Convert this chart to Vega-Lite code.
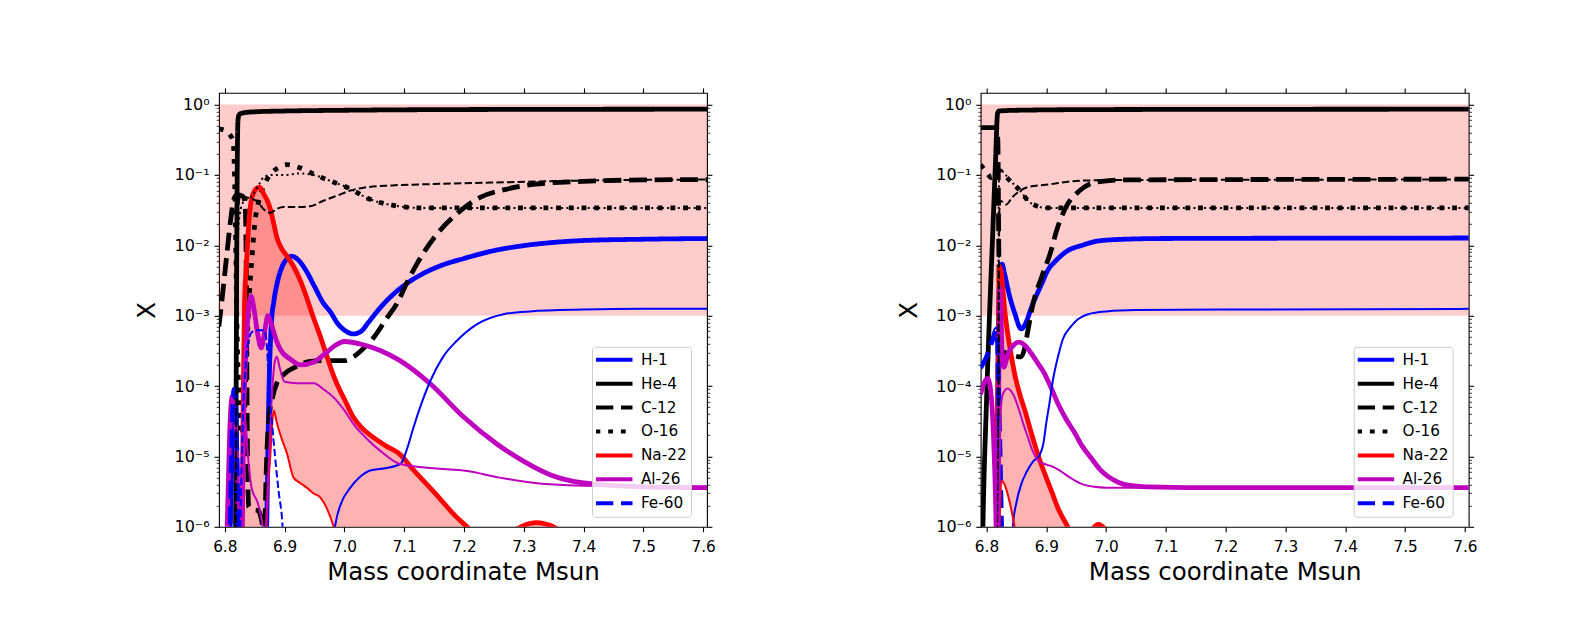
{
  "$schema": "https://vega.github.io/schema/vega-lite/v6.json",
  "background": "white",
  "padding": {"left": 133, "top": 86.8, "right": 10, "bottom": 10},
  "spacing": 178.7,
  "config": {
    "font": "DejaVu Sans",
    "view": {"stroke": "black", "strokeWidth": 1.1},
    "axis": {"domain": false, "grid": false, "tickColor": "black", "labelColor": "black", "titleColor": "black", "labelFont": "DejaVu Sans", "titleFont": "DejaVu Sans", "titleFontWeight": "normal", "labelFontSize": 15.3, "titleFontSize": 24.5, "labelOverlap": false, "labelFlush": false, "labelBound": false}
  },
  "resolve": {"scale": {"color": "independent", "strokeDash": "independent"}},
  "datasets": {
    "curvesLeft": [
      {"species":"H-1","run":"1","mass":6.79,"X":1e-8},{"species":"H-1","run":"1","mass":6.805,"X":1e-8},{"species":"H-1","run":"1","mass":6.809,"X":1e-6},{"species":"H-1","run":"1","mass":6.813,"X":3e-5},{"species":"H-1","run":"1","mass":6.816,"X":9e-5},{"species":"H-1","run":"1","mass":6.819,"X":3e-5},{"species":"H-1","run":"1","mass":6.822,"X":1e-6},{"species":"H-1","run":"1","mass":6.826,"X":1e-8},{"species":"H-1","run":"1","mass":6.862,"X":1e-8},{"species":"H-1","run":"1","mass":6.87,"X":1e-6},{"species":"H-1","run":"1","mass":6.874,"X":1e-4},{"species":"H-1","run":"1","mass":6.878,"X":8e-4},{"species":"H-1","run":"1","mass":6.882,"X":1.6e-3},{"species":"H-1","run":"1","mass":6.888,"X":3e-3},{"species":"H-1","run":"1","mass":6.896,"X":5e-3},{"species":"H-1","run":"1","mass":6.905,"X":6.5e-3},{"species":"H-1","run":"1","mass":6.912,"X":7e-3},{"species":"H-1","run":"1","mass":6.922,"X":6.3e-3},{"species":"H-1","run":"1","mass":6.935,"X":4.5e-3},{"species":"H-1","run":"1","mass":6.95,"X":2.6e-3},{"species":"H-1","run":"1","mass":6.965,"X":1.5e-3},{"species":"H-1","run":"1","mass":6.976,"X":1.15e-3},{"species":"H-1","run":"1","mass":6.99,"X":7.5e-4},{"species":"H-1","run":"1","mass":7.003,"X":6e-4},{"species":"H-1","run":"1","mass":7.015,"X":5.5e-4},{"species":"H-1","run":"1","mass":7.028,"X":6e-4},{"species":"H-1","run":"1","mass":7.04,"X":8e-4},{"species":"H-1","run":"1","mass":7.06,"X":1.3e-3},{"species":"H-1","run":"1","mass":7.08,"X":1.95e-3},{"species":"H-1","run":"1","mass":7.1,"X":2.7e-3},{"species":"H-1","run":"1","mass":7.13,"X":3.9e-3},{"species":"H-1","run":"1","mass":7.16,"X":5.1e-3},{"species":"H-1","run":"1","mass":7.2,"X":6.5e-3},{"species":"H-1","run":"1","mass":7.25,"X":8.4e-3},{"species":"H-1","run":"1","mass":7.3,"X":9.9e-3},{"species":"H-1","run":"1","mass":7.35,"X":1.1e-2},{"species":"H-1","run":"1","mass":7.4,"X":1.17e-2},{"species":"H-1","run":"1","mass":7.5,"X":1.22e-2},{"species":"H-1","run":"1","mass":7.61,"X":1.25e-2},
      {"species":"He-4","run":"1","mass":6.79,"X":1e-8},{"species":"He-4","run":"1","mass":6.815,"X":1e-8},{"species":"He-4","run":"1","mass":6.818,"X":1e-6},{"species":"He-4","run":"1","mass":6.8195,"X":1e-3},{"species":"He-4","run":"1","mass":6.821,"X":0.2},{"species":"He-4","run":"1","mass":6.822,"X":0.6},{"species":"He-4","run":"1","mass":6.824,"X":0.72},{"species":"He-4","run":"1","mass":6.83,"X":0.76},{"species":"He-4","run":"1","mass":6.85,"X":0.79},{"species":"He-4","run":"1","mass":6.9,"X":0.81},{"species":"He-4","run":"1","mass":7.0,"X":0.83},{"species":"He-4","run":"1","mass":7.2,"X":0.85},{"species":"He-4","run":"1","mass":7.61,"X":0.86},
      {"species":"C-12","run":"1","mass":6.79,"X":7e-4},{"species":"C-12","run":"1","mass":6.795,"X":1.6e-3},{"species":"C-12","run":"1","mass":6.8,"X":4e-3},{"species":"C-12","run":"1","mass":6.805,"X":0.01},{"species":"C-12","run":"1","mass":6.81,"X":0.024},{"species":"C-12","run":"1","mass":6.815,"X":0.045},{"species":"C-12","run":"1","mass":6.82,"X":0.052},{"species":"C-12","run":"1","mass":6.83,"X":0.05},{"species":"C-12","run":"1","mass":6.834,"X":0.04},{"species":"C-12","run":"1","mass":6.836,"X":3e-3},{"species":"C-12","run":"1","mass":6.837,"X":1e-4},{"species":"C-12","run":"1","mass":6.838,"X":1e-5},{"species":"C-12","run":"1","mass":6.84,"X":1.9e-6},{"species":"C-12","run":"1","mass":6.848,"X":1.75e-6},{"species":"C-12","run":"1","mass":6.856,"X":1.7e-6},{"species":"C-12","run":"1","mass":6.86,"X":1.4e-6},{"species":"C-12","run":"1","mass":6.863,"X":1e-6},{"species":"C-12","run":"1","mass":6.865,"X":4e-7},{"species":"C-12","run":"1","mass":6.867,"X":1e-6},{"species":"C-12","run":"1","mass":6.869,"X":5e-6},{"species":"C-12","run":"1","mass":6.873,"X":2.9e-5},{"species":"C-12","run":"1","mass":6.88,"X":7e-5},{"species":"C-12","run":"1","mass":6.887,"X":1.1e-4},{"species":"C-12","run":"1","mass":6.9,"X":1.5e-4},{"species":"C-12","run":"1","mass":6.92,"X":1.9e-4},{"species":"C-12","run":"1","mass":6.943,"X":2.25e-4},{"species":"C-12","run":"1","mass":6.97,"X":2.3e-4},{"species":"C-12","run":"1","mass":7.0,"X":2.3e-4},{"species":"C-12","run":"1","mass":7.015,"X":2.6e-4},{"species":"C-12","run":"1","mass":7.03,"X":3.3e-4},{"species":"C-12","run":"1","mass":7.049,"X":4.9e-4},{"species":"C-12","run":"1","mass":7.07,"X":9e-4},{"species":"C-12","run":"1","mass":7.088,"X":1.5e-3},{"species":"C-12","run":"1","mass":7.105,"X":3e-3},{"species":"C-12","run":"1","mass":7.121,"X":5.4e-3},{"species":"C-12","run":"1","mass":7.155,"X":0.0145},{"species":"C-12","run":"1","mass":7.188,"X":0.028},{"species":"C-12","run":"1","mass":7.227,"X":0.048},{"species":"C-12","run":"1","mass":7.272,"X":0.063},{"species":"C-12","run":"1","mass":7.32,"X":0.074},{"species":"C-12","run":"1","mass":7.4,"X":0.081},{"species":"C-12","run":"1","mass":7.5,"X":0.085},{"species":"C-12","run":"1","mass":7.61,"X":0.086},
      {"species":"O-16","run":"1","mass":6.79,"X":0.45},{"species":"O-16","run":"1","mass":6.8,"X":0.43},{"species":"O-16","run":"1","mass":6.809,"X":0.37},{"species":"O-16","run":"1","mass":6.814,"X":0.3},{"species":"O-16","run":"1","mass":6.817,"X":0.05},{"species":"O-16","run":"1","mass":6.82,"X":1e-3},{"species":"O-16","run":"1","mass":6.823,"X":1e-4},{"species":"O-16","run":"1","mass":6.827,"X":2e-5},{"species":"O-16","run":"1","mass":6.832,"X":3e-5},{"species":"O-16","run":"1","mass":6.836,"X":2e-4},{"species":"O-16","run":"1","mass":6.84,"X":1.4e-3},{"species":"O-16","run":"1","mass":6.845,"X":6e-3},{"species":"O-16","run":"1","mass":6.85,"X":0.02},{"species":"O-16","run":"1","mass":6.856,"X":0.04},{"species":"O-16","run":"1","mass":6.862,"X":0.06},{"species":"O-16","run":"1","mass":6.87,"X":0.085},{"species":"O-16","run":"1","mass":6.88,"X":0.11},{"species":"O-16","run":"1","mass":6.892,"X":0.13},{"species":"O-16","run":"1","mass":6.905,"X":0.14},{"species":"O-16","run":"1","mass":6.926,"X":0.126},{"species":"O-16","run":"1","mass":6.954,"X":0.098},{"species":"O-16","run":"1","mass":6.98,"X":0.08},{"species":"O-16","run":"1","mass":7.004,"X":0.067},{"species":"O-16","run":"1","mass":7.043,"X":0.045},{"species":"O-16","run":"1","mass":7.082,"X":0.037},{"species":"O-16","run":"1","mass":7.127,"X":0.034},{"species":"O-16","run":"1","mass":7.2,"X":0.034},{"species":"O-16","run":"1","mass":7.61,"X":0.034},
      {"species":"Al-26","run":"1","mass":6.79,"X":1e-8},{"species":"Al-26","run":"1","mass":6.8,"X":1e-8},{"species":"Al-26","run":"1","mass":6.804,"X":1e-6},{"species":"Al-26","run":"1","mass":6.808,"X":2e-5},{"species":"Al-26","run":"1","mass":6.812,"X":7e-5},{"species":"Al-26","run":"1","mass":6.815,"X":7.5e-5},{"species":"Al-26","run":"1","mass":6.818,"X":3e-5},{"species":"Al-26","run":"1","mass":6.821,"X":3e-6},{"species":"Al-26","run":"1","mass":6.823,"X":1e-7},{"species":"Al-26","run":"1","mass":6.826,"X":1e-8},{"species":"Al-26","run":"1","mass":6.829,"X":1e-6},{"species":"Al-26","run":"1","mass":6.832,"X":5e-5},{"species":"Al-26","run":"1","mass":6.836,"X":4e-4},{"species":"Al-26","run":"1","mass":6.84,"X":1.3e-3},{"species":"Al-26","run":"1","mass":6.844,"X":1.9e-3},{"species":"Al-26","run":"1","mass":6.849,"X":1.2e-3},{"species":"Al-26","run":"1","mass":6.855,"X":5.5e-4},{"species":"Al-26","run":"1","mass":6.861,"X":3.5e-4},{"species":"Al-26","run":"1","mass":6.866,"X":5.5e-4},{"species":"Al-26","run":"1","mass":6.872,"X":1e-3},{"species":"Al-26","run":"1","mass":6.878,"X":7.5e-4},{"species":"Al-26","run":"1","mass":6.886,"X":4.5e-4},{"species":"Al-26","run":"1","mass":6.893,"X":3.3e-4},{"species":"Al-26","run":"1","mass":6.91,"X":2.4e-4},{"species":"Al-26","run":"1","mass":6.926,"X":2e-4},{"species":"Al-26","run":"1","mass":6.949,"X":2.2e-4},{"species":"Al-26","run":"1","mass":6.97,"X":3e-4},{"species":"Al-26","run":"1","mass":6.985,"X":3.8e-4},{"species":"Al-26","run":"1","mass":7.0,"X":4.3e-4},{"species":"Al-26","run":"1","mass":7.03,"X":3.9e-4},{"species":"Al-26","run":"1","mass":7.06,"X":3.2e-4},{"species":"Al-26","run":"1","mass":7.093,"X":2.3e-4},{"species":"Al-26","run":"1","mass":7.144,"X":1.07e-4},{"species":"Al-26","run":"1","mass":7.2,"X":3.6e-5},{"species":"Al-26","run":"1","mass":7.255,"X":1.5e-5},{"species":"Al-26","run":"1","mass":7.3,"X":8.5e-6},{"species":"Al-26","run":"1","mass":7.344,"X":5.5e-6},{"species":"Al-26","run":"1","mass":7.4,"X":4.2e-6},{"species":"Al-26","run":"1","mass":7.5,"X":3.7e-6},{"species":"Al-26","run":"1","mass":7.61,"X":3.6e-6},
      {"species":"Fe-60","run":"1","mass":6.79,"X":1e-8},{"species":"Fe-60","run":"1","mass":6.806,"X":1e-8},{"species":"Fe-60","run":"1","mass":6.809,"X":1e-6},{"species":"Fe-60","run":"1","mass":6.813,"X":4e-5},{"species":"Fe-60","run":"1","mass":6.816,"X":9e-5},{"species":"Fe-60","run":"1","mass":6.819,"X":3e-5},{"species":"Fe-60","run":"1","mass":6.822,"X":1e-6},{"species":"Fe-60","run":"1","mass":6.825,"X":1e-8},{"species":"Fe-60","run":"1","mass":6.9,"X":1e-8},
      {"species":"H-1","run":"2","mass":6.79,"X":1e-8},{"species":"H-1","run":"2","mass":6.975,"X":1e-8},{"species":"H-1","run":"2","mass":6.982,"X":7e-7},{"species":"H-1","run":"2","mass":6.986,"X":1.2e-6},{"species":"H-1","run":"2","mass":6.995,"X":2.2e-6},{"species":"H-1","run":"2","mass":7.01,"X":3.6e-6},{"species":"H-1","run":"2","mass":7.025,"X":5e-6},{"species":"H-1","run":"2","mass":7.043,"X":6.3e-6},{"species":"H-1","run":"2","mass":7.068,"X":6.8e-6},{"species":"H-1","run":"2","mass":7.085,"X":7.3e-6},{"species":"H-1","run":"2","mass":7.095,"X":8e-6},{"species":"H-1","run":"2","mass":7.105,"X":1.3e-5},{"species":"H-1","run":"2","mass":7.115,"X":2.5e-5},{"species":"H-1","run":"2","mass":7.13,"X":6e-5},{"species":"H-1","run":"2","mass":7.144,"X":1.2e-4},{"species":"H-1","run":"2","mass":7.165,"X":2.6e-4},{"species":"H-1","run":"2","mass":7.188,"X":4.4e-4},{"species":"H-1","run":"2","mass":7.222,"X":7.6e-4},{"species":"H-1","run":"2","mass":7.266,"X":1.05e-3},{"species":"H-1","run":"2","mass":7.31,"X":1.15e-3},{"species":"H-1","run":"2","mass":7.4,"X":1.22e-3},{"species":"H-1","run":"2","mass":7.5,"X":1.25e-3},{"species":"H-1","run":"2","mass":7.61,"X":1.25e-3},
      {"species":"C-12","run":"2","mass":6.818,"X":1e-7},{"species":"C-12","run":"2","mass":6.82,"X":1e-3},{"species":"C-12","run":"2","mass":6.822,"X":0.03},{"species":"C-12","run":"2","mass":6.826,"X":0.05},{"species":"C-12","run":"2","mass":6.84,"X":0.047},{"species":"C-12","run":"2","mass":6.854,"X":0.042},{"species":"C-12","run":"2","mass":6.866,"X":0.032},{"species":"C-12","run":"2","mass":6.876,"X":0.029},{"species":"C-12","run":"2","mass":6.887,"X":0.033},{"species":"C-12","run":"2","mass":6.898,"X":0.035},{"species":"C-12","run":"2","mass":6.92,"X":0.035},{"species":"C-12","run":"2","mass":6.943,"X":0.036},{"species":"C-12","run":"2","mass":6.965,"X":0.043},{"species":"C-12","run":"2","mass":6.988,"X":0.051},{"species":"C-12","run":"2","mass":7.01,"X":0.06},{"species":"C-12","run":"2","mass":7.032,"X":0.066},{"species":"C-12","run":"2","mass":7.08,"X":0.071},{"species":"C-12","run":"2","mass":7.144,"X":0.074},{"species":"C-12","run":"2","mass":7.25,"X":0.078},{"species":"C-12","run":"2","mass":7.43,"X":0.084},{"species":"C-12","run":"2","mass":7.61,"X":0.086},
      {"species":"O-16","run":"2","mass":6.818,"X":1e-6},{"species":"O-16","run":"2","mass":6.82,"X":1e-3},{"species":"O-16","run":"2","mass":6.823,"X":0.02},{"species":"O-16","run":"2","mass":6.83,"X":0.04},{"species":"O-16","run":"2","mass":6.845,"X":0.05},{"species":"O-16","run":"2","mass":6.858,"X":0.075},{"species":"O-16","run":"2","mass":6.866,"X":0.095},{"species":"O-16","run":"2","mass":6.88,"X":0.1},{"species":"O-16","run":"2","mass":6.9,"X":0.1},{"species":"O-16","run":"2","mass":6.926,"X":0.105},{"species":"O-16","run":"2","mass":6.954,"X":0.097},{"species":"O-16","run":"2","mass":6.98,"X":0.08},{"species":"O-16","run":"2","mass":7.004,"X":0.067},{"species":"O-16","run":"2","mass":7.043,"X":0.045},{"species":"O-16","run":"2","mass":7.082,"X":0.037},{"species":"O-16","run":"2","mass":7.127,"X":0.034},{"species":"O-16","run":"2","mass":7.61,"X":0.034},
      {"species":"Al-26","run":"2","mass":6.79,"X":1e-8},{"species":"Al-26","run":"2","mass":6.824,"X":1e-8},{"species":"Al-26","run":"2","mass":6.827,"X":1e-6},{"species":"Al-26","run":"2","mass":6.83,"X":1.5e-5},{"species":"Al-26","run":"2","mass":6.834,"X":3.5e-5},{"species":"Al-26","run":"2","mass":6.838,"X":1.2e-5},{"species":"Al-26","run":"2","mass":6.845,"X":3.5e-6},{"species":"Al-26","run":"2","mass":6.855,"X":2.2e-6},{"species":"Al-26","run":"2","mass":6.86,"X":1.5e-6},{"species":"Al-26","run":"2","mass":6.863,"X":1e-6},{"species":"Al-26","run":"2","mass":6.866,"X":3e-7},{"species":"Al-26","run":"2","mass":6.869,"X":1e-6},{"species":"Al-26","run":"2","mass":6.874,"X":1e-5},{"species":"Al-26","run":"2","mass":6.879,"X":8e-5},{"species":"Al-26","run":"2","mass":6.884,"X":2.3e-4},{"species":"Al-26","run":"2","mass":6.887,"X":2.6e-4},{"species":"Al-26","run":"2","mass":6.892,"X":1.8e-4},{"species":"Al-26","run":"2","mass":6.9,"X":1.15e-4},{"species":"Al-26","run":"2","mass":6.92,"X":1.1e-4},{"species":"Al-26","run":"2","mass":6.949,"X":1.1e-4},{"species":"Al-26","run":"2","mass":6.965,"X":9e-5},{"species":"Al-26","run":"2","mass":6.982,"X":6.9e-5},{"species":"Al-26","run":"2","mass":7.0,"X":4.5e-5},{"species":"Al-26","run":"2","mass":7.015,"X":2.9e-5},{"species":"Al-26","run":"2","mass":7.04,"X":1.7e-5},{"species":"Al-26","run":"2","mass":7.06,"X":1.2e-5},{"species":"Al-26","run":"2","mass":7.093,"X":7.8e-6},{"species":"Al-26","run":"2","mass":7.149,"X":6.8e-6},{"species":"Al-26","run":"2","mass":7.205,"X":6.2e-6},{"species":"Al-26","run":"2","mass":7.26,"X":5e-6},{"species":"Al-26","run":"2","mass":7.33,"X":4.1e-6},{"species":"Al-26","run":"2","mass":7.43,"X":3.8e-6},{"species":"Al-26","run":"2","mass":7.61,"X":3.7e-6},
      {"species":"Fe-60","run":"2","mass":6.79,"X":1e-8},{"species":"Fe-60","run":"2","mass":6.822,"X":1e-8},{"species":"Fe-60","run":"2","mass":6.826,"X":1e-6},{"species":"Fe-60","run":"2","mass":6.83,"X":3e-5},{"species":"Fe-60","run":"2","mass":6.835,"X":2e-4},{"species":"Fe-60","run":"2","mass":6.84,"X":4.5e-4},{"species":"Fe-60","run":"2","mass":6.845,"X":5.8e-4},{"species":"Fe-60","run":"2","mass":6.852,"X":6.2e-4},{"species":"Fe-60","run":"2","mass":6.866,"X":6.2e-4},{"species":"Fe-60","run":"2","mass":6.87,"X":4e-4},{"species":"Fe-60","run":"2","mass":6.874,"X":1e-4},{"species":"Fe-60","run":"2","mass":6.879,"X":3e-5},{"species":"Fe-60","run":"2","mass":6.884,"X":1e-5},{"species":"Fe-60","run":"2","mass":6.89,"X":3.2e-6},{"species":"Fe-60","run":"2","mass":6.896,"X":1.2e-6},{"species":"Fe-60","run":"2","mass":6.9,"X":3e-7},{"species":"Fe-60","run":"2","mass":6.91,"X":1e-8}
    ],
    "na22Left": [
      {"mass":6.79,"run1":1e-8,"run2":1e-8},{"mass":6.827,"run1":1e-8,"run2":1e-8},{"mass":6.829,"run1":1e-6,"run2":1e-8},{"mass":6.831,"run1":1e-4,"run2":1e-8},{"mass":6.833,"run1":1.5e-3,"run2":1e-8},{"mass":6.836,"run1":5e-3,"run2":1e-8},{"mass":6.84,"run1":0.02,"run2":1e-8},{"mass":6.844,"run1":0.042,"run2":1e-8},{"mass":6.85,"run1":0.06,"run2":1e-8},{"mass":6.858,"run1":0.067,"run2":1e-8},{"mass":6.866,"run1":0.052,"run2":1e-8},{"mass":6.87,"run1":0.045,"run2":1e-6},{"mass":6.876,"run1":0.033,"run2":1e-5},{"mass":6.882,"run1":0.02,"run2":4.5e-5},{"mass":6.887,"run1":0.013,"run2":3e-5},{"mass":6.895,"run1":9e-3,"run2":1.8e-5},{"mass":6.904,"run1":7e-3,"run2":1.1e-5},{"mass":6.915,"run1":5e-3,"run2":5e-6},{"mass":6.926,"run1":3.2e-3,"run2":4.2e-6},{"mass":6.937,"run1":1.8e-3,"run2":3.6e-6},{"mass":6.948,"run1":9.5e-4,"run2":3e-6},{"mass":6.96,"run1":5e-4,"run2":2.6e-6},{"mass":6.971,"run1":2.6e-4,"run2":1.8e-6},{"mass":6.982,"run1":1.4e-4,"run2":1e-6},{"mass":6.993,"run1":8.5e-5,"run2":4e-7},{"mass":7.0,"run1":6.5e-5,"run2":2e-7},{"mass":7.015,"run1":3.6e-5,"run2":5e-8},{"mass":7.03,"run1":2.5e-5,"run2":1e-8},{"mass":7.049,"run1":1.85e-5,"run2":1e-8},{"mass":7.07,"run1":1.4e-5,"run2":1e-8},{"mass":7.093,"run1":1.07e-5,"run2":1e-8},{"mass":7.115,"run1":6.5e-6,"run2":1e-8},{"mass":7.138,"run1":4e-6,"run2":1e-8},{"mass":7.16,"run1":2.5e-6,"run2":1e-8},{"mass":7.183,"run1":1.5e-6,"run2":1e-8},{"mass":7.205,"run1":1e-6,"run2":1e-8},{"mass":7.23,"run1":6.5e-7,"run2":1e-8},{"mass":7.26,"run1":6e-7,"run2":1e-8},{"mass":7.29,"run1":9.5e-7,"run2":1e-8},{"mass":7.32,"run1":1.15e-6,"run2":1e-8},{"mass":7.35,"run1":1e-6,"run2":1e-8},{"mass":7.38,"run1":6e-7,"run2":1e-8},{"mass":7.45,"run1":2e-7,"run2":1e-8},{"mass":7.61,"run1":5e-8,"run2":1e-8}
    ],
    "curvesRight": [
      {"species":"H-1","run":"1","mass":6.79,"X":1e-8},{"species":"H-1","run":"1","mass":6.815,"X":1e-8},{"species":"H-1","run":"1","mass":6.817,"X":1e-6},{"species":"H-1","run":"1","mass":6.819,"X":1e-4},{"species":"H-1","run":"1","mass":6.821,"X":1.5e-3},{"species":"H-1","run":"1","mass":6.823,"X":4.5e-3},{"species":"H-1","run":"1","mass":6.826,"X":5.4e-3},{"species":"H-1","run":"1","mass":6.83,"X":4e-3},{"species":"H-1","run":"1","mass":6.838,"X":2e-3},{"species":"H-1","run":"1","mass":6.847,"X":1.1e-3},{"species":"H-1","run":"1","mass":6.858,"X":6.5e-4},{"species":"H-1","run":"1","mass":6.866,"X":8e-4},{"species":"H-1","run":"1","mass":6.875,"X":1.3e-3},{"species":"H-1","run":"1","mass":6.892,"X":2.8e-3},{"species":"H-1","run":"1","mass":6.903,"X":4.5e-3},{"species":"H-1","run":"1","mass":6.914,"X":5.8e-3},{"species":"H-1","run":"1","mass":6.936,"X":8.4e-3},{"species":"H-1","run":"1","mass":6.96,"X":1e-2},{"species":"H-1","run":"1","mass":6.986,"X":1.15e-2},{"species":"H-1","run":"1","mass":7.03,"X":1.22e-2},{"species":"H-1","run":"1","mass":7.1,"X":1.25e-2},{"species":"H-1","run":"1","mass":7.61,"X":1.27e-2},
      {"species":"He-4","run":"1","mass":6.79,"X":1e-8},{"species":"He-4","run":"1","mass":6.792,"X":1e-7},{"species":"He-4","run":"1","mass":6.794,"X":1e-6},{"species":"He-4","run":"1","mass":6.8,"X":6e-5},{"species":"He-4","run":"1","mass":6.805,"X":1e-3},{"species":"He-4","run":"1","mass":6.81,"X":1.2e-2},{"species":"He-4","run":"1","mass":6.815,"X":0.15},{"species":"He-4","run":"1","mass":6.8185,"X":0.75},{"species":"He-4","run":"1","mass":6.821,"X":0.81},{"species":"He-4","run":"1","mass":6.85,"X":0.83},{"species":"He-4","run":"1","mass":7.0,"X":0.85},{"species":"He-4","run":"1","mass":7.61,"X":0.86},
      {"species":"C-12","run":"1","mass":6.79,"X":0.47},{"species":"C-12","run":"1","mass":6.817,"X":0.47},{"species":"C-12","run":"1","mass":6.819,"X":0.3},{"species":"C-12","run":"1","mass":6.8205,"X":0.01},{"species":"C-12","run":"1","mass":6.822,"X":1e-3},{"species":"C-12","run":"1","mass":6.825,"X":3.2e-4},{"species":"C-12","run":"1","mass":6.84,"X":2.8e-4},{"species":"C-12","run":"1","mass":6.858,"X":2.6e-4},{"species":"C-12","run":"1","mass":6.864,"X":3.5e-4},{"species":"C-12","run":"1","mass":6.869,"X":6e-4},{"species":"C-12","run":"1","mass":6.878,"X":1.5e-3},{"species":"C-12","run":"1","mass":6.892,"X":3.5e-3},{"species":"C-12","run":"1","mass":6.908,"X":8.4e-3},{"species":"C-12","run":"1","mass":6.917,"X":0.016},{"species":"C-12","run":"1","mass":6.933,"X":0.035},{"species":"C-12","run":"1","mass":6.956,"X":0.06},{"species":"C-12","run":"1","mass":6.983,"X":0.079},{"species":"C-12","run":"1","mass":7.03,"X":0.085},{"species":"C-12","run":"1","mass":7.61,"X":0.087},
      {"species":"O-16","run":"1","mass":6.79,"X":0.14},{"species":"O-16","run":"1","mass":6.8,"X":0.11},{"species":"O-16","run":"1","mass":6.808,"X":0.092},{"species":"O-16","run":"1","mass":6.815,"X":0.1},{"species":"O-16","run":"1","mass":6.822,"X":0.115},{"species":"O-16","run":"1","mass":6.83,"X":0.1},{"species":"O-16","run":"1","mass":6.839,"X":0.083},{"species":"O-16","run":"1","mass":6.856,"X":0.06},{"species":"O-16","run":"1","mass":6.872,"X":0.041},{"species":"O-16","run":"1","mass":6.885,"X":0.036},{"species":"O-16","run":"1","mass":6.9,"X":0.034},{"species":"O-16","run":"1","mass":6.95,"X":0.034},{"species":"O-16","run":"1","mass":7.61,"X":0.034},
      {"species":"Al-26","run":"1","mass":6.79,"X":7.6e-5},{"species":"Al-26","run":"1","mass":6.797,"X":1.15e-4},{"species":"Al-26","run":"1","mass":6.802,"X":1.3e-4},{"species":"Al-26","run":"1","mass":6.806,"X":1e-4},{"species":"Al-26","run":"1","mass":6.81,"X":4e-5},{"species":"Al-26","run":"1","mass":6.813,"X":1e-5},{"species":"Al-26","run":"1","mass":6.816,"X":1e-6},{"species":"Al-26","run":"1","mass":6.8175,"X":1e-7},{"species":"Al-26","run":"1","mass":6.819,"X":1e-6},{"species":"Al-26","run":"1","mass":6.8205,"X":1e-4},{"species":"Al-26","run":"1","mass":6.822,"X":2.5e-3},{"species":"Al-26","run":"1","mass":6.8235,"X":2e-3},{"species":"Al-26","run":"1","mass":6.826,"X":3e-4},{"species":"Al-26","run":"1","mass":6.829,"X":1.85e-4},{"species":"Al-26","run":"1","mass":6.836,"X":2.9e-4},{"species":"Al-26","run":"1","mass":6.845,"X":3.8e-4},{"species":"Al-26","run":"1","mass":6.854,"X":4.2e-4},{"species":"Al-26","run":"1","mass":6.864,"X":3.8e-4},{"species":"Al-26","run":"1","mass":6.875,"X":2.9e-4},{"species":"Al-26","run":"1","mass":6.886,"X":2.1e-4},{"species":"Al-26","run":"1","mass":6.897,"X":1.5e-4},{"species":"Al-26","run":"1","mass":6.908,"X":9.5e-5},{"species":"Al-26","run":"1","mass":6.92,"X":5.5e-5},{"species":"Al-26","run":"1","mass":6.933,"X":3.4e-5},{"species":"Al-26","run":"1","mass":6.947,"X":2.2e-5},{"species":"Al-26","run":"1","mass":6.96,"X":1.4e-5},{"species":"Al-26","run":"1","mass":6.975,"X":9.5e-6},{"species":"Al-26","run":"1","mass":6.99,"X":6.5e-6},{"species":"Al-26","run":"1","mass":7.003,"X":5.2e-6},{"species":"Al-26","run":"1","mass":7.02,"X":4.3e-6},{"species":"Al-26","run":"1","mass":7.036,"X":3.9e-6},{"species":"Al-26","run":"1","mass":7.07,"X":3.7e-6},{"species":"Al-26","run":"1","mass":7.2,"X":3.6e-6},{"species":"Al-26","run":"1","mass":7.61,"X":3.6e-6},
      {"species":"Fe-60","run":"1","mass":6.79,"X":1.8e-4},{"species":"Fe-60","run":"1","mass":6.8,"X":2.6e-4},{"species":"Fe-60","run":"1","mass":6.81,"X":4.5e-4},{"species":"Fe-60","run":"1","mass":6.817,"X":6.5e-4},{"species":"Fe-60","run":"1","mass":6.8185,"X":4e-4},{"species":"Fe-60","run":"1","mass":6.82,"X":1e-4},{"species":"Fe-60","run":"1","mass":6.822,"X":2e-5},{"species":"Fe-60","run":"1","mass":6.824,"X":3e-6},{"species":"Fe-60","run":"1","mass":6.826,"X":5e-7},{"species":"Fe-60","run":"1","mass":6.83,"X":1e-8},{"species":"Fe-60","run":"1","mass":6.9,"X":1e-8},
      {"species":"H-1","run":"2","mass":6.79,"X":1e-8},{"species":"H-1","run":"2","mass":6.84,"X":1e-8},{"species":"H-1","run":"2","mass":6.844,"X":1e-6},{"species":"H-1","run":"2","mass":6.85,"X":2.2e-6},{"species":"H-1","run":"2","mass":6.858,"X":4e-6},{"species":"H-1","run":"2","mass":6.867,"X":6e-6},{"species":"H-1","run":"2","mass":6.878,"X":8.5e-6},{"species":"H-1","run":"2","mass":6.889,"X":1.05e-5},{"species":"H-1","run":"2","mass":6.895,"X":1.5e-5},{"species":"H-1","run":"2","mass":6.9,"X":3e-5},{"species":"H-1","run":"2","mass":6.905,"X":5.5e-5},{"species":"H-1","run":"2","mass":6.911,"X":1.2e-4},{"species":"H-1","run":"2","mass":6.92,"X":2.7e-4},{"species":"H-1","run":"2","mass":6.928,"X":4.7e-4},{"species":"H-1","run":"2","mass":6.94,"X":6.8e-4},{"species":"H-1","run":"2","mass":6.95,"X":8.5e-4},{"species":"H-1","run":"2","mass":6.97,"X":1.05e-3},{"species":"H-1","run":"2","mass":7.0,"X":1.15e-3},{"species":"H-1","run":"2","mass":7.05,"X":1.2e-3},{"species":"H-1","run":"2","mass":7.2,"X":1.22e-3},{"species":"H-1","run":"2","mass":7.61,"X":1.25e-3},
      {"species":"C-12","run":"2","mass":6.8195,"X":1e-7},{"species":"C-12","run":"2","mass":6.8205,"X":1e-3},{"species":"C-12","run":"2","mass":6.8215,"X":0.03},{"species":"C-12","run":"2","mass":6.823,"X":0.043},{"species":"C-12","run":"2","mass":6.833,"X":0.038},{"species":"C-12","run":"2","mass":6.843,"X":0.048},{"species":"C-12","run":"2","mass":6.853,"X":0.057},{"species":"C-12","run":"2","mass":6.869,"X":0.067},{"species":"C-12","run":"2","mass":6.903,"X":0.073},{"species":"C-12","run":"2","mass":6.958,"X":0.083},{"species":"C-12","run":"2","mass":7.05,"X":0.085},{"species":"C-12","run":"2","mass":7.61,"X":0.086},
      {"species":"O-16","run":"2","mass":6.8195,"X":1e-6},{"species":"O-16","run":"2","mass":6.8205,"X":0.05},{"species":"O-16","run":"2","mass":6.822,"X":0.12},{"species":"O-16","run":"2","mass":6.83,"X":0.105},{"species":"O-16","run":"2","mass":6.839,"X":0.085},{"species":"O-16","run":"2","mass":6.856,"X":0.06},{"species":"O-16","run":"2","mass":6.872,"X":0.041},{"species":"O-16","run":"2","mass":6.885,"X":0.036},{"species":"O-16","run":"2","mass":6.9,"X":0.034},{"species":"O-16","run":"2","mass":7.61,"X":0.034},
      {"species":"Al-26","run":"2","mass":6.79,"X":1e-8},{"species":"Al-26","run":"2","mass":6.819,"X":1e-8},{"species":"Al-26","run":"2","mass":6.821,"X":1e-6},{"species":"Al-26","run":"2","mass":6.823,"X":3e-5},{"species":"Al-26","run":"2","mass":6.826,"X":7e-5},{"species":"Al-26","run":"2","mass":6.83,"X":8.5e-5},{"species":"Al-26","run":"2","mass":6.835,"X":9.2e-5},{"species":"Al-26","run":"2","mass":6.845,"X":7.5e-5},{"species":"Al-26","run":"2","mass":6.853,"X":5e-5},{"species":"Al-26","run":"2","mass":6.861,"X":3e-5},{"species":"Al-26","run":"2","mass":6.869,"X":1.9e-5},{"species":"Al-26","run":"2","mass":6.877,"X":1.2e-5},{"species":"Al-26","run":"2","mass":6.886,"X":8.8e-6},{"species":"Al-26","run":"2","mass":6.897,"X":7.8e-6},{"species":"Al-26","run":"2","mass":6.908,"X":7.3e-6},{"species":"Al-26","run":"2","mass":6.92,"X":6.5e-6},{"species":"Al-26","run":"2","mass":6.931,"X":5.6e-6},{"species":"Al-26","run":"2","mass":6.945,"X":4.7e-6},{"species":"Al-26","run":"2","mass":6.958,"X":4.1e-6},{"species":"Al-26","run":"2","mass":6.98,"X":3.7e-6},{"species":"Al-26","run":"2","mass":7.0,"X":3.6e-6},{"species":"Al-26","run":"2","mass":7.61,"X":3.6e-6}
    ],
    "na22Right": [
      {"mass":6.79,"run1":1e-8,"run2":1e-8},{"mass":6.815,"run1":1e-8,"run2":1e-8},{"mass":6.817,"run1":1e-6,"run2":1e-8},{"mass":6.819,"run1":1e-4,"run2":1e-8},{"mass":6.8205,"run1":2e-3,"run2":1e-7},{"mass":6.822,"run1":5e-3,"run2":1e-6},{"mass":6.825,"run1":4e-3,"run2":4.5e-6},{"mass":6.83,"run1":1.3e-3,"run2":4e-6},{"mass":6.835,"run1":6e-4,"run2":3e-6},{"mass":6.84,"run1":3.2e-4,"run2":2e-6},{"mass":6.847,"run1":1.5e-4,"run2":1e-6},{"mass":6.855,"run1":8e-5,"run2":3e-7},{"mass":6.866,"run1":4e-5,"run2":5e-8},{"mass":6.876,"run1":2e-5,"run2":1e-8},{"mass":6.887,"run1":1e-5,"run2":1e-8},{"mass":6.898,"run1":5.5e-6,"run2":1e-8},{"mass":6.91,"run1":3e-6,"run2":1e-8},{"mass":6.92,"run1":1.8e-6,"run2":1e-8},{"mass":6.932,"run1":1.15e-6,"run2":1e-8},{"mass":6.945,"run1":7.5e-7,"run2":1e-8},{"mass":6.96,"run1":7e-7,"run2":1e-8},{"mass":6.975,"run1":9e-7,"run2":1e-8},{"mass":6.987,"run1":1.08e-6,"run2":1e-8},{"mass":7.0,"run1":9e-7,"run2":1e-8},{"mass":7.02,"run1":5e-7,"run2":1e-8},{"mass":7.06,"run1":2e-7,"run2":1e-8},{"mass":7.2,"run1":5e-8,"run2":1e-8},{"mass":7.61,"run1":1e-8,"run2":1e-8}
    ]
  },
  "hconcat": [
    {
      "width": 488,
      "height": 434,
      "resolve": {"axis": {"x": "independent", "y": "independent"}},
      "layer": [
        {
          "data": {"values": [{"lower": 0.001, "upper": 1}]},
          "mark": {"type": "rect", "color": "#ff0000", "opacity": 0.2},
          "encoding": {
            "y": {"field": "lower", "type": "quantitative", "scale": {"type": "log", "domain": [1e-6, 1.47], "nice": false},
              "axis": {"orient": "left", "values": [1e-6, 1e-5, 1e-4, 1e-3, 0.01, 0.1, 1], "labelExpr": "datum.value >= 0.5 ? '10⁰' : datum.value >= 0.05 ? '10⁻¹' : datum.value >= 0.005 ? '10⁻²' : datum.value >= 0.0005 ? '10⁻³' : datum.value >= 0.00005 ? '10⁻⁴' : datum.value >= 0.000005 ? '10⁻⁵' : '10⁻⁶'", "title": "X", "tickSize": 4.9, "tickWidth": 1.1, "labelPadding": 4.9, "labelFontSize": 16, "titlePadding": 14.5}},
            "y2": {"field": "upper"}
          }
        },
        {
          "data": {"name": "na22Left"},
          "mark": {"type": "area", "color": "#ff0000", "opacity": 0.3, "interpolate": "monotone", "clip": true},
          "encoding": {
            "x": {"field": "mass", "type": "quantitative", "scale": {"domain": [6.7903, 7.6064], "nice": false, "zero": false},
              "axis": {"orient": "bottom", "values": [6.8, 6.9, 7.0, 7.1, 7.2, 7.3, 7.4, 7.5, 7.6], "format": ".1f", "title": "Mass coordinate Msun", "tickSize": 4.9, "tickWidth": 1.1, "labelPadding": 8, "titlePadding": 6}},
            "y": {"field": "run1", "type": "quantitative", "scale": {"type": "log", "domain": [1e-6, 1.47], "nice": false},
              "axis": {"orient": "left", "values": [2e-6,3e-6,4e-6,5e-6,6e-6,7e-6,8e-6,9e-6,2e-5,3e-5,4e-5,5e-5,6e-5,7e-5,8e-5,9e-5,2e-4,3e-4,4e-4,5e-4,6e-4,7e-4,8e-4,9e-4,0.002,0.003,0.004,0.005,0.006,0.007,0.008,0.009,0.02,0.03,0.04,0.05,0.06,0.07,0.08,0.09,0.2,0.3,0.4,0.5,0.6,0.7,0.8,0.9], "labels": false, "title": null, "tickSize": 2.8, "tickWidth": 0.8}},
            "y2": {"field": "run2"}
          }
        },
        {
          "data": {"name": "curvesLeft"},
          "transform": [{"filter": {"and": [{"field": "run", "equal": "1"}, {"field": "species", "oneOf": ["H-1", "He-4", "C-12", "O-16"]}]}}],
          "mark": {"type": "line", "strokeWidth": 4.8, "interpolate": "monotone", "clip": true},
          "encoding": {
            "x": {"field": "mass", "type": "quantitative", "scale": {"domain": [6.7903, 7.6064], "nice": false, "zero": false},
              "axis": {"orient": "top", "values": [6.8, 6.9, 7.0, 7.1, 7.2, 7.3, 7.4, 7.5, 7.6], "labels": false, "title": null, "tickSize": 4.9, "tickWidth": 1.1}},
            "y": {"field": "X", "type": "quantitative", "scale": {"type": "log", "domain": [1e-6, 1.47], "nice": false},
              "axis": {"orient": "right", "values": [1e-6, 1e-5, 1e-4, 1e-3, 0.01, 0.1, 1], "labels": false, "title": null, "tickSize": 4.9, "tickWidth": 1.1}},
            "color": {"field": "species", "type": "nominal",
              "scale": {"domain": ["H-1", "He-4", "C-12", "O-16", "Na-22", "Al-26", "Fe-60"], "range": ["#0000ff", "#000000", "#000000", "#000000", "#ff0000", "#bf00bf", "#0000ff"]},
              "legend": {"orient": "none", "legendX": 373, "legendY": 254, "title": null, "symbolType": "stroke", "symbolSize": 1369, "symbolStrokeWidth": 4, "symbolOffset": -2.5, "clipHeight": 18, "rowPadding": 5.9, "labelOffset": 6.4, "labelFontSize": 15.3, "labelColor": "black", "padding": 4, "fillColor": "rgba(255,255,255,0.8)", "strokeColor": "#cccccc", "cornerRadius": 3}},
            "strokeDash": {"field": "species", "type": "nominal",
              "scale": {"domain": ["H-1", "He-4", "C-12", "O-16", "Na-22", "Al-26", "Fe-60"], "range": [[1, 0], [1, 0], [17.8, 7.7], [4.8, 7.9], [1, 0], [1, 0], [17.8, 7.7]]},
              "legend": {"orient": "none", "legendX": 373, "legendY": 254, "title": null, "symbolType": "stroke", "symbolSize": 1369, "symbolStrokeWidth": 4, "symbolOffset": -2.5, "clipHeight": 18, "rowPadding": 5.9, "labelOffset": 6.4, "labelFontSize": 15.3, "labelColor": "black", "padding": 4, "fillColor": "rgba(255,255,255,0.8)", "strokeColor": "#cccccc", "cornerRadius": 3}}
          }
        },
        {
          "data": {"name": "na22Left"},
          "mark": {"type": "line", "color": "#ff0000", "strokeWidth": 4.8, "interpolate": "monotone", "clip": true},
          "encoding": {
            "x": {"field": "mass", "type": "quantitative", "scale": {"domain": [6.7903, 7.6064], "nice": false, "zero": false}, "axis": null},
            "y": {"field": "run1", "type": "quantitative", "scale": {"type": "log", "domain": [1e-6, 1.47], "nice": false}, "axis": null}
          }
        },
        {
          "data": {"name": "curvesLeft"},
          "transform": [{"filter": {"and": [{"field": "run", "equal": "1"}, {"field": "species", "equal": "Al-26"}]}}],
          "mark": {"type": "line", "color": "#bf00bf", "strokeWidth": 4.8, "interpolate": "monotone", "clip": true},
          "encoding": {
            "x": {"field": "mass", "type": "quantitative", "scale": {"domain": [6.7903, 7.6064], "nice": false, "zero": false}, "axis": null},
            "y": {"field": "X", "type": "quantitative", "scale": {"type": "log", "domain": [1e-6, 1.47], "nice": false}, "axis": null}
          }
        },
        {
          "data": {"name": "curvesLeft"},
          "transform": [{"filter": {"and": [{"field": "run", "equal": "1"}, {"field": "species", "equal": "Fe-60"}]}}],
          "mark": {"type": "line", "color": "#0000ff", "strokeWidth": 4.8, "strokeDash": [17.8, 7.7], "interpolate": "monotone", "clip": true},
          "encoding": {
            "x": {"field": "mass", "type": "quantitative", "scale": {"domain": [6.7903, 7.6064], "nice": false, "zero": false}, "axis": null},
            "y": {"field": "X", "type": "quantitative", "scale": {"type": "log", "domain": [1e-6, 1.47], "nice": false}, "axis": null}
          }
        },
        {
          "data": {"name": "curvesLeft"},
          "transform": [{"filter": {"and": [{"field": "run", "equal": "2"}, {"field": "species", "equal": "H-1"}]}}],
          "mark": {"type": "line", "color": "#0000ff", "strokeWidth": 2, "interpolate": "monotone", "clip": true},
          "encoding": {
            "x": {"field": "mass", "type": "quantitative", "scale": {"domain": [6.7903, 7.6064], "nice": false, "zero": false}, "axis": null},
            "y": {"field": "X", "type": "quantitative", "scale": {"type": "log", "domain": [1e-6, 1.47], "nice": false},
              "axis": {"orient": "right", "values": [2e-6,3e-6,4e-6,5e-6,6e-6,7e-6,8e-6,9e-6,2e-5,3e-5,4e-5,5e-5,6e-5,7e-5,8e-5,9e-5,2e-4,3e-4,4e-4,5e-4,6e-4,7e-4,8e-4,9e-4,0.002,0.003,0.004,0.005,0.006,0.007,0.008,0.009,0.02,0.03,0.04,0.05,0.06,0.07,0.08,0.09,0.2,0.3,0.4,0.5,0.6,0.7,0.8,0.9], "labels": false, "title": null, "tickSize": 2.8, "tickWidth": 0.8}}
          }
        },
        {
          "data": {"name": "curvesLeft"},
          "transform": [{"filter": {"and": [{"field": "run", "equal": "2"}, {"field": "species", "equal": "C-12"}]}}],
          "mark": {"type": "line", "color": "#000000", "strokeWidth": 2, "strokeDash": [7.4, 3.2], "interpolate": "monotone", "clip": true},
          "encoding": {
            "x": {"field": "mass", "type": "quantitative", "scale": {"domain": [6.7903, 7.6064], "nice": false, "zero": false}, "axis": null},
            "y": {"field": "X", "type": "quantitative", "scale": {"type": "log", "domain": [1e-6, 1.47], "nice": false}, "axis": null}
          }
        },
        {
          "data": {"name": "curvesLeft"},
          "transform": [{"filter": {"and": [{"field": "run", "equal": "2"}, {"field": "species", "equal": "O-16"}]}}],
          "mark": {"type": "line", "color": "#000000", "strokeWidth": 2, "strokeDash": [2, 3.3], "interpolate": "monotone", "clip": true},
          "encoding": {
            "x": {"field": "mass", "type": "quantitative", "scale": {"domain": [6.7903, 7.6064], "nice": false, "zero": false}, "axis": null},
            "y": {"field": "X", "type": "quantitative", "scale": {"type": "log", "domain": [1e-6, 1.47], "nice": false}, "axis": null}
          }
        },
        {
          "data": {"name": "na22Left"},
          "mark": {"type": "line", "color": "#ff0000", "strokeWidth": 2, "interpolate": "monotone", "clip": true},
          "encoding": {
            "x": {"field": "mass", "type": "quantitative", "scale": {"domain": [6.7903, 7.6064], "nice": false, "zero": false}, "axis": null},
            "y": {"field": "run2", "type": "quantitative", "scale": {"type": "log", "domain": [1e-6, 1.47], "nice": false}, "axis": null}
          }
        },
        {
          "data": {"name": "curvesLeft"},
          "transform": [{"filter": {"and": [{"field": "run", "equal": "2"}, {"field": "species", "equal": "Al-26"}]}}],
          "mark": {"type": "line", "color": "#bf00bf", "strokeWidth": 2, "interpolate": "monotone", "clip": true},
          "encoding": {
            "x": {"field": "mass", "type": "quantitative", "scale": {"domain": [6.7903, 7.6064], "nice": false, "zero": false}, "axis": null},
            "y": {"field": "X", "type": "quantitative", "scale": {"type": "log", "domain": [1e-6, 1.47], "nice": false}, "axis": null}
          }
        },
        {
          "data": {"name": "curvesLeft"},
          "transform": [{"filter": {"and": [{"field": "run", "equal": "2"}, {"field": "species", "equal": "Fe-60"}]}}],
          "mark": {"type": "line", "color": "#0000ff", "strokeWidth": 2, "strokeDash": [7.4, 3.2], "interpolate": "monotone", "clip": true},
          "encoding": {
            "x": {"field": "mass", "type": "quantitative", "scale": {"domain": [6.7903, 7.6064], "nice": false, "zero": false}, "axis": null},
            "y": {"field": "X", "type": "quantitative", "scale": {"type": "log", "domain": [1e-6, 1.47], "nice": false}, "axis": null}
          }
        }
      ]
    },
    {
      "width": 488,
      "height": 434,
      "resolve": {"axis": {"x": "independent", "y": "independent"}},
      "layer": [
        {
          "data": {"values": [{"lower": 0.001, "upper": 1}]},
          "mark": {"type": "rect", "color": "#ff0000", "opacity": 0.2},
          "encoding": {
            "y": {"field": "lower", "type": "quantitative", "scale": {"type": "log", "domain": [1e-6, 1.47], "nice": false},
              "axis": {"orient": "left", "values": [1e-6, 1e-5, 1e-4, 1e-3, 0.01, 0.1, 1], "labelExpr": "datum.value >= 0.5 ? '10⁰' : datum.value >= 0.05 ? '10⁻¹' : datum.value >= 0.005 ? '10⁻²' : datum.value >= 0.0005 ? '10⁻³' : datum.value >= 0.00005 ? '10⁻⁴' : datum.value >= 0.000005 ? '10⁻⁵' : '10⁻⁶'", "title": "X", "tickSize": 4.9, "tickWidth": 1.1, "labelPadding": 4.9, "labelFontSize": 16, "titlePadding": 14.5}},
            "y2": {"field": "upper"}
          }
        },
        {
          "data": {"name": "na22Right"},
          "mark": {"type": "area", "color": "#ff0000", "opacity": 0.3, "interpolate": "monotone", "clip": true},
          "encoding": {
            "x": {"field": "mass", "type": "quantitative", "scale": {"domain": [6.7903, 7.6064], "nice": false, "zero": false},
              "axis": {"orient": "bottom", "values": [6.8, 6.9, 7.0, 7.1, 7.2, 7.3, 7.4, 7.5, 7.6], "format": ".1f", "title": "Mass coordinate Msun", "tickSize": 4.9, "tickWidth": 1.1, "labelPadding": 8, "titlePadding": 6}},
            "y": {"field": "run1", "type": "quantitative", "scale": {"type": "log", "domain": [1e-6, 1.47], "nice": false},
              "axis": {"orient": "left", "values": [2e-6,3e-6,4e-6,5e-6,6e-6,7e-6,8e-6,9e-6,2e-5,3e-5,4e-5,5e-5,6e-5,7e-5,8e-5,9e-5,2e-4,3e-4,4e-4,5e-4,6e-4,7e-4,8e-4,9e-4,0.002,0.003,0.004,0.005,0.006,0.007,0.008,0.009,0.02,0.03,0.04,0.05,0.06,0.07,0.08,0.09,0.2,0.3,0.4,0.5,0.6,0.7,0.8,0.9], "labels": false, "title": null, "tickSize": 2.8, "tickWidth": 0.8}},
            "y2": {"field": "run2"}
          }
        },
        {
          "data": {"name": "curvesRight"},
          "transform": [{"filter": {"and": [{"field": "run", "equal": "1"}, {"field": "species", "oneOf": ["H-1", "He-4", "C-12", "O-16"]}]}}],
          "mark": {"type": "line", "strokeWidth": 4.8, "interpolate": "monotone", "clip": true},
          "encoding": {
            "x": {"field": "mass", "type": "quantitative", "scale": {"domain": [6.7903, 7.6064], "nice": false, "zero": false},
              "axis": {"orient": "top", "values": [6.8, 6.9, 7.0, 7.1, 7.2, 7.3, 7.4, 7.5, 7.6], "labels": false, "title": null, "tickSize": 4.9, "tickWidth": 1.1}},
            "y": {"field": "X", "type": "quantitative", "scale": {"type": "log", "domain": [1e-6, 1.47], "nice": false},
              "axis": {"orient": "right", "values": [1e-6, 1e-5, 1e-4, 1e-3, 0.01, 0.1, 1], "labels": false, "title": null, "tickSize": 4.9, "tickWidth": 1.1}},
            "color": {"field": "species", "type": "nominal",
              "scale": {"domain": ["H-1", "He-4", "C-12", "O-16", "Na-22", "Al-26", "Fe-60"], "range": ["#0000ff", "#000000", "#000000", "#000000", "#ff0000", "#bf00bf", "#0000ff"]},
              "legend": {"orient": "none", "legendX": 373, "legendY": 254, "title": null, "symbolType": "stroke", "symbolSize": 1369, "symbolStrokeWidth": 4, "symbolOffset": -2.5, "clipHeight": 18, "rowPadding": 5.9, "labelOffset": 6.4, "labelFontSize": 15.3, "labelColor": "black", "padding": 4, "fillColor": "rgba(255,255,255,0.8)", "strokeColor": "#cccccc", "cornerRadius": 3}},
            "strokeDash": {"field": "species", "type": "nominal",
              "scale": {"domain": ["H-1", "He-4", "C-12", "O-16", "Na-22", "Al-26", "Fe-60"], "range": [[1, 0], [1, 0], [17.8, 7.7], [4.8, 7.9], [1, 0], [1, 0], [17.8, 7.7]]},
              "legend": {"orient": "none", "legendX": 373, "legendY": 254, "title": null, "symbolType": "stroke", "symbolSize": 1369, "symbolStrokeWidth": 4, "symbolOffset": -2.5, "clipHeight": 18, "rowPadding": 5.9, "labelOffset": 6.4, "labelFontSize": 15.3, "labelColor": "black", "padding": 4, "fillColor": "rgba(255,255,255,0.8)", "strokeColor": "#cccccc", "cornerRadius": 3}}
          }
        },
        {
          "data": {"name": "na22Right"},
          "mark": {"type": "line", "color": "#ff0000", "strokeWidth": 4.8, "interpolate": "monotone", "clip": true},
          "encoding": {
            "x": {"field": "mass", "type": "quantitative", "scale": {"domain": [6.7903, 7.6064], "nice": false, "zero": false}, "axis": null},
            "y": {"field": "run1", "type": "quantitative", "scale": {"type": "log", "domain": [1e-6, 1.47], "nice": false}, "axis": null}
          }
        },
        {
          "data": {"name": "curvesRight"},
          "transform": [{"filter": {"and": [{"field": "run", "equal": "1"}, {"field": "species", "equal": "Al-26"}]}}],
          "mark": {"type": "line", "color": "#bf00bf", "strokeWidth": 4.8, "interpolate": "monotone", "clip": true},
          "encoding": {
            "x": {"field": "mass", "type": "quantitative", "scale": {"domain": [6.7903, 7.6064], "nice": false, "zero": false}, "axis": null},
            "y": {"field": "X", "type": "quantitative", "scale": {"type": "log", "domain": [1e-6, 1.47], "nice": false}, "axis": null}
          }
        },
        {
          "data": {"name": "curvesRight"},
          "transform": [{"filter": {"and": [{"field": "run", "equal": "1"}, {"field": "species", "equal": "Fe-60"}]}}],
          "mark": {"type": "line", "color": "#0000ff", "strokeWidth": 4.8, "strokeDash": [17.8, 7.7], "interpolate": "monotone", "clip": true},
          "encoding": {
            "x": {"field": "mass", "type": "quantitative", "scale": {"domain": [6.7903, 7.6064], "nice": false, "zero": false}, "axis": null},
            "y": {"field": "X", "type": "quantitative", "scale": {"type": "log", "domain": [1e-6, 1.47], "nice": false}, "axis": null}
          }
        },
        {
          "data": {"name": "curvesRight"},
          "transform": [{"filter": {"and": [{"field": "run", "equal": "2"}, {"field": "species", "equal": "H-1"}]}}],
          "mark": {"type": "line", "color": "#0000ff", "strokeWidth": 2, "interpolate": "monotone", "clip": true},
          "encoding": {
            "x": {"field": "mass", "type": "quantitative", "scale": {"domain": [6.7903, 7.6064], "nice": false, "zero": false}, "axis": null},
            "y": {"field": "X", "type": "quantitative", "scale": {"type": "log", "domain": [1e-6, 1.47], "nice": false},
              "axis": {"orient": "right", "values": [2e-6,3e-6,4e-6,5e-6,6e-6,7e-6,8e-6,9e-6,2e-5,3e-5,4e-5,5e-5,6e-5,7e-5,8e-5,9e-5,2e-4,3e-4,4e-4,5e-4,6e-4,7e-4,8e-4,9e-4,0.002,0.003,0.004,0.005,0.006,0.007,0.008,0.009,0.02,0.03,0.04,0.05,0.06,0.07,0.08,0.09,0.2,0.3,0.4,0.5,0.6,0.7,0.8,0.9], "labels": false, "title": null, "tickSize": 2.8, "tickWidth": 0.8}}
          }
        },
        {
          "data": {"name": "curvesRight"},
          "transform": [{"filter": {"and": [{"field": "run", "equal": "2"}, {"field": "species", "equal": "C-12"}]}}],
          "mark": {"type": "line", "color": "#000000", "strokeWidth": 2, "strokeDash": [7.4, 3.2], "interpolate": "monotone", "clip": true},
          "encoding": {
            "x": {"field": "mass", "type": "quantitative", "scale": {"domain": [6.7903, 7.6064], "nice": false, "zero": false}, "axis": null},
            "y": {"field": "X", "type": "quantitative", "scale": {"type": "log", "domain": [1e-6, 1.47], "nice": false}, "axis": null}
          }
        },
        {
          "data": {"name": "curvesRight"},
          "transform": [{"filter": {"and": [{"field": "run", "equal": "2"}, {"field": "species", "equal": "O-16"}]}}],
          "mark": {"type": "line", "color": "#000000", "strokeWidth": 2, "strokeDash": [2, 3.3], "interpolate": "monotone", "clip": true},
          "encoding": {
            "x": {"field": "mass", "type": "quantitative", "scale": {"domain": [6.7903, 7.6064], "nice": false, "zero": false}, "axis": null},
            "y": {"field": "X", "type": "quantitative", "scale": {"type": "log", "domain": [1e-6, 1.47], "nice": false}, "axis": null}
          }
        },
        {
          "data": {"name": "na22Right"},
          "mark": {"type": "line", "color": "#ff0000", "strokeWidth": 2, "interpolate": "monotone", "clip": true},
          "encoding": {
            "x": {"field": "mass", "type": "quantitative", "scale": {"domain": [6.7903, 7.6064], "nice": false, "zero": false}, "axis": null},
            "y": {"field": "run2", "type": "quantitative", "scale": {"type": "log", "domain": [1e-6, 1.47], "nice": false}, "axis": null}
          }
        },
        {
          "data": {"name": "curvesRight"},
          "transform": [{"filter": {"and": [{"field": "run", "equal": "2"}, {"field": "species", "equal": "Al-26"}]}}],
          "mark": {"type": "line", "color": "#bf00bf", "strokeWidth": 2, "interpolate": "monotone", "clip": true},
          "encoding": {
            "x": {"field": "mass", "type": "quantitative", "scale": {"domain": [6.7903, 7.6064], "nice": false, "zero": false}, "axis": null},
            "y": {"field": "X", "type": "quantitative", "scale": {"type": "log", "domain": [1e-6, 1.47], "nice": false}, "axis": null}
          }
        }
      ]
    }
  ]
}
